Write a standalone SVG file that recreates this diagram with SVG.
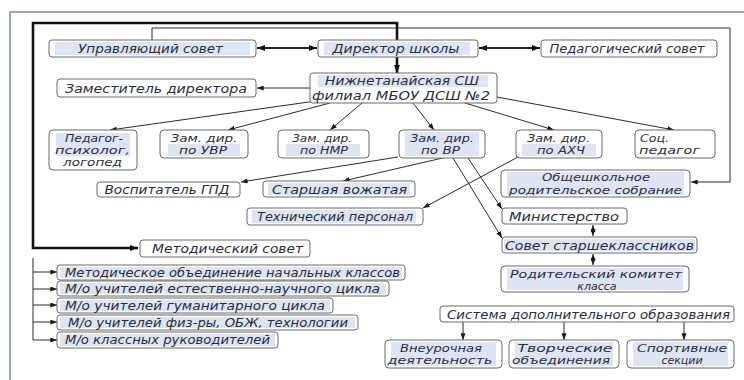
<svg xmlns="http://www.w3.org/2000/svg" width="744" height="380" viewBox="0 0 744 380">
<defs>
<style>
.bx{fill:#ffffff;stroke:#6a6a6a;stroke-width:1}
.hl{fill:#dce5f1}
.t{font-family:"DejaVu Sans","Liberation Sans",sans-serif;font-style:italic;font-size:12px;fill:#2a2d40;text-anchor:middle}
.s{font-size:11px}
.tl{text-anchor:start}
.c{fill:none;stroke:#2b2b2b;stroke-width:1}
.ck{fill:none;stroke:#111111;stroke-width:2.6}
.cm{fill:none;stroke:#222222;stroke-width:1.8}
</style>
<marker id="a" viewBox="0 0 8 6" refX="8" refY="3" markerWidth="7" markerHeight="5" markerUnits="userSpaceOnUse" orient="auto-start-reverse"><path d="M0,0 L8,3 L0,6 z" fill="#1a1a1a"/></marker>
<marker id="ak" viewBox="0 0 8 6" refX="8" refY="3" markerWidth="8" markerHeight="6" markerUnits="userSpaceOnUse" orient="auto-start-reverse"><path d="M0,0 L8,3 L0,6 z" fill="#111111"/></marker>
</defs>
<rect width="744" height="380" fill="#ffffff"/>
<path d="M10,380 L10,12 L744,12" fill="none" stroke="#97a7ba" stroke-width="2"/>

<g id="connectors">
<polyline class="ck" points="397,40 397,23 33,23 33,248 138,248" marker-end="url(#ak)"/>
<line class="ck" x1="397" y1="57" x2="397" y2="73" marker-end="url(#ak)"/>
<line class="cm" x1="257" y1="48" x2="317" y2="48" marker-start="url(#ak)" marker-end="url(#ak)"/>
<line class="cm" x1="479" y1="48" x2="540" y2="48" marker-start="url(#ak)" marker-end="url(#ak)"/>
<polyline class="c" points="152,40 152,28 730,28 730,182 691,182" marker-end="url(#a)"/>
<line class="c" x1="310" y1="88" x2="257" y2="88" marker-end="url(#a)"/>
<line class="c" x1="316" y1="101" x2="110" y2="130" marker-end="url(#a)"/>
<line class="c" x1="330" y1="103" x2="228" y2="130" marker-end="url(#a)"/>
<line class="c" x1="362" y1="103" x2="330" y2="130" marker-end="url(#a)"/>
<line class="c" x1="413" y1="103" x2="434" y2="130" marker-end="url(#a)"/>
<line class="c" x1="465" y1="103" x2="554" y2="130" marker-end="url(#a)"/>
<line class="c" x1="497" y1="97" x2="674" y2="130" marker-end="url(#a)"/>
<line class="c" x1="398" y1="157" x2="241" y2="182" marker-end="url(#a)"/>
<line class="c" x1="447" y1="157" x2="343" y2="181" marker-end="url(#a)"/>
<line class="c" x1="518" y1="157" x2="423" y2="208" marker-end="url(#a)"/>
<line class="c" x1="468" y1="158" x2="502" y2="209" marker-end="url(#a)"/>
<line class="c" x1="453" y1="158" x2="502" y2="238" marker-end="url(#a)"/>
<line class="c" x1="593" y1="225" x2="593" y2="236" marker-start="url(#a)" marker-end="url(#a)"/>
<line class="c" x1="593" y1="254" x2="593" y2="265" marker-start="url(#a)" marker-end="url(#a)"/>
<line class="c" x1="463" y1="322" x2="463" y2="340" marker-end="url(#a)"/>
<line class="c" x1="564" y1="322" x2="564" y2="340" marker-end="url(#a)"/>
<line class="c" x1="684" y1="322" x2="684" y2="340" marker-end="url(#a)"/>
<polyline class="c" points="33,258 33,340 57,340" marker-end="url(#a)"/>
<line class="c" x1="33" y1="272" x2="57" y2="272" marker-end="url(#a)"/>
<line class="c" x1="33" y1="289" x2="57" y2="289" marker-end="url(#a)"/>
<line class="c" x1="33" y1="305" x2="57" y2="305" marker-end="url(#a)"/>
<line class="c" x1="33" y1="322" x2="57" y2="322" marker-end="url(#a)"/>
</g>

<g id="upr"><rect class="bx" x="49" y="40" width="207" height="17" rx="3"/><rect class="hl" x="55" y="42" width="195" height="13"/><text class="t" x="150.5" y="53" textLength="145" lengthAdjust="spacingAndGlyphs">Управляющий совет</text></g>
<g id="dir"><rect class="bx" x="318" y="40" width="160" height="17" rx="3"/><rect class="hl" x="324" y="42" width="146" height="13"/><text class="t" x="396" y="53" textLength="127" lengthAdjust="spacingAndGlyphs">Директор школы</text></g>
<g id="pedsov"><rect class="bx" x="541" y="40" width="176" height="17" rx="3"/><text class="t" x="627" y="53" textLength="155" lengthAdjust="spacingAndGlyphs">Педагогический совет</text></g>
<g id="zam"><rect class="bx" x="57" y="79" width="199" height="18" rx="3"/><text class="t" x="156" y="92.5" textLength="182" lengthAdjust="spacingAndGlyphs">Заместитель директора</text></g>
<g id="nizh"><rect class="bx" x="310" y="73" width="187" height="30" rx="3"/><rect class="hl" x="318" y="75" width="170" height="12"/><text class="t" x="402" y="85" textLength="154" lengthAdjust="spacingAndGlyphs">Нижнетанайская СШ</text><text class="t" x="401" y="99.5" textLength="178" lengthAdjust="spacingAndGlyphs">филиал МБОУ ДСШ №2</text></g>

<g id="psy"><rect class="bx" x="49" y="130" width="88" height="40" rx="4"/><rect class="hl" x="56" y="133" width="74" height="23"/><text class="t s" x="94" y="142" textLength="58" lengthAdjust="spacingAndGlyphs">Педагог-</text><text class="t s" x="92.5" y="154" textLength="75" lengthAdjust="spacingAndGlyphs">психолог,</text><text class="t s" x="92.5" y="166" textLength="59" lengthAdjust="spacingAndGlyphs">логопед</text></g>
<g id="uvr"><rect class="bx" x="160" y="130" width="88" height="28" rx="4"/><rect class="hl" x="168" y="144" width="72" height="12"/><text class="t s" x="204" y="141.5" textLength="67" lengthAdjust="spacingAndGlyphs">Зам. дир.</text><text class="t s" x="203" y="154" textLength="48" lengthAdjust="spacingAndGlyphs">по УВР</text></g>
<g id="nmr"><rect class="bx" x="278" y="130" width="91" height="28" rx="4"/><rect class="hl" x="286" y="144" width="74" height="12"/><text class="t s" x="322" y="141.5" textLength="60" lengthAdjust="spacingAndGlyphs">Зам. дир.</text><text class="t s" x="324" y="154" textLength="48" lengthAdjust="spacingAndGlyphs">по НМР</text></g>
<g id="vr"><rect class="bx" x="399" y="130" width="86" height="28" rx="4"/><rect class="hl" x="405" y="132" width="74" height="24"/><text class="t s" x="442" y="141.5" textLength="64" lengthAdjust="spacingAndGlyphs">Зам. дир.</text><text class="t s" x="440.5" y="154" textLength="39" lengthAdjust="spacingAndGlyphs">по ВР</text></g>
<g id="ahch"><rect class="bx" x="516" y="130" width="86" height="28" rx="4"/><rect class="hl" x="522" y="144" width="74" height="12"/><text class="t s" x="558.5" y="141.5" textLength="63" lengthAdjust="spacingAndGlyphs">Зам. дир.</text><text class="t s" x="561" y="154" textLength="48" lengthAdjust="spacingAndGlyphs">по АХЧ</text></g>
<g id="soc"><rect class="bx" x="635" y="130" width="80" height="28" rx="4"/><text class="t s tl" x="640" y="141.5" textLength="29" lengthAdjust="spacingAndGlyphs">Соц.</text><text class="t s tl" x="639" y="154" textLength="61" lengthAdjust="spacingAndGlyphs">педагог</text></g>

<g id="gpd"><rect class="bx" x="97" y="182" width="143" height="15" rx="3"/><text class="t" x="167" y="194" textLength="125" lengthAdjust="spacingAndGlyphs">Воспитатель ГПД</text></g>
<g id="vozh"><rect class="bx" x="263" y="181" width="152" height="16" rx="3"/><rect class="hl" x="268" y="183" width="142" height="12"/><text class="t" x="339.5" y="193.5" textLength="135" lengthAdjust="spacingAndGlyphs">Старшая вожатая</text></g>
<g id="tech"><rect class="bx" x="247" y="208" width="176" height="17" rx="3"/><rect class="hl" x="252" y="210" width="164" height="13"/><text class="t" x="335" y="221" textLength="156" lengthAdjust="spacingAndGlyphs">Технический персонал</text></g>
<g id="obsh"><rect class="bx" x="501" y="170" width="189" height="27" rx="4"/><rect class="hl" x="507" y="172" width="177" height="23"/><text class="t s" x="596" y="181" textLength="108" lengthAdjust="spacingAndGlyphs">Общешкольное</text><text class="t s" x="595.5" y="193.5" textLength="173" lengthAdjust="spacingAndGlyphs">родительское собрание</text></g>
<g id="min"><rect class="bx" x="502" y="208" width="125" height="16" rx="3"/><text class="t tl" x="509" y="220.5" textLength="110" lengthAdjust="spacingAndGlyphs">Министерство</text></g>
<g id="sovet"><rect class="bx" x="502" y="237" width="195" height="16" rx="3"/><rect class="hl" x="504" y="239" width="191" height="12"/><text class="t" x="599.5" y="249.5" textLength="189" lengthAdjust="spacingAndGlyphs">Совет старшеклассников</text></g>
<g id="rod"><rect class="bx" x="501" y="266" width="188" height="26" rx="4"/><rect class="hl" x="507" y="268" width="176" height="22"/><text class="t s" x="596" y="277.5" textLength="172" lengthAdjust="spacingAndGlyphs">Родительский комитет</text><text class="t s" x="597" y="289.5">класса</text></g>
<g id="sys"><rect class="bx" x="440" y="306" width="294" height="16" rx="3"/><text class="t" x="588.5" y="318.5" textLength="283" lengthAdjust="spacingAndGlyphs">Система дополнительного образования</text></g>
<g id="vneur"><rect class="bx" x="385" y="340" width="117" height="28" rx="4"/><rect class="hl" x="391" y="342" width="105" height="24"/><text class="t s" x="441" y="351.5" textLength="82" lengthAdjust="spacingAndGlyphs">Внеурочная</text><text class="t s" x="440" y="364" textLength="105" lengthAdjust="spacingAndGlyphs">деятельность</text></g>
<g id="tvor"><rect class="bx" x="509" y="340" width="110" height="28" rx="4"/><rect class="hl" x="515" y="342" width="98" height="24"/><text class="t s" x="565" y="351.5" textLength="95" lengthAdjust="spacingAndGlyphs">Творческие</text><text class="t s" x="561" y="364" textLength="98" lengthAdjust="spacingAndGlyphs">объединения</text></g>
<g id="sport"><rect class="bx" x="627" y="340" width="107" height="28" rx="4"/><rect class="hl" x="633" y="342" width="95" height="24"/><text class="t s" x="682" y="351.5" textLength="90" lengthAdjust="spacingAndGlyphs">Спортивные</text><text class="t s" x="682" y="364">секции</text></g>

<g id="metsov"><rect class="bx" x="140" y="240" width="170" height="17" rx="3"/><text class="t" x="227.5" y="253" textLength="151" lengthAdjust="spacingAndGlyphs">Методический совет</text></g>
<g id="mo1"><rect class="bx" x="57" y="265" width="348" height="15" rx="3"/><rect class="hl" x="60" y="267" width="342" height="11"/><text class="t tl" x="65" y="277" textLength="335" lengthAdjust="spacingAndGlyphs">Методическое объединение начальных классов</text></g>
<g id="mo2"><rect class="bx" x="57" y="281" width="332" height="15" rx="3"/><rect class="hl" x="60" y="283" width="326" height="11"/><text class="t tl" x="65" y="293" textLength="315" lengthAdjust="spacingAndGlyphs">М/о учителей естественно-научного цикла</text></g>
<g id="mo3"><rect class="bx" x="57" y="298" width="276" height="15" rx="3"/><rect class="hl" x="60" y="300" width="270" height="11"/><text class="t tl" x="65" y="310" textLength="260" lengthAdjust="spacingAndGlyphs">М/о учителей гуманитарного цикла</text></g>
<g id="mo4"><rect class="bx" x="57" y="315" width="301" height="15" rx="3"/><rect class="hl" x="60" y="317" width="295" height="11"/><text class="t tl" x="68" y="327" textLength="280" lengthAdjust="spacingAndGlyphs">М/о учителей физ-ры, ОБЖ, технологии</text></g>
<g id="mo5"><rect class="bx" x="57" y="332" width="221" height="16" rx="3"/><rect class="hl" x="60" y="334" width="215" height="12"/><text class="t tl" x="65" y="344" textLength="205" lengthAdjust="spacingAndGlyphs">М/о классных руководителей</text></g>
</svg>
